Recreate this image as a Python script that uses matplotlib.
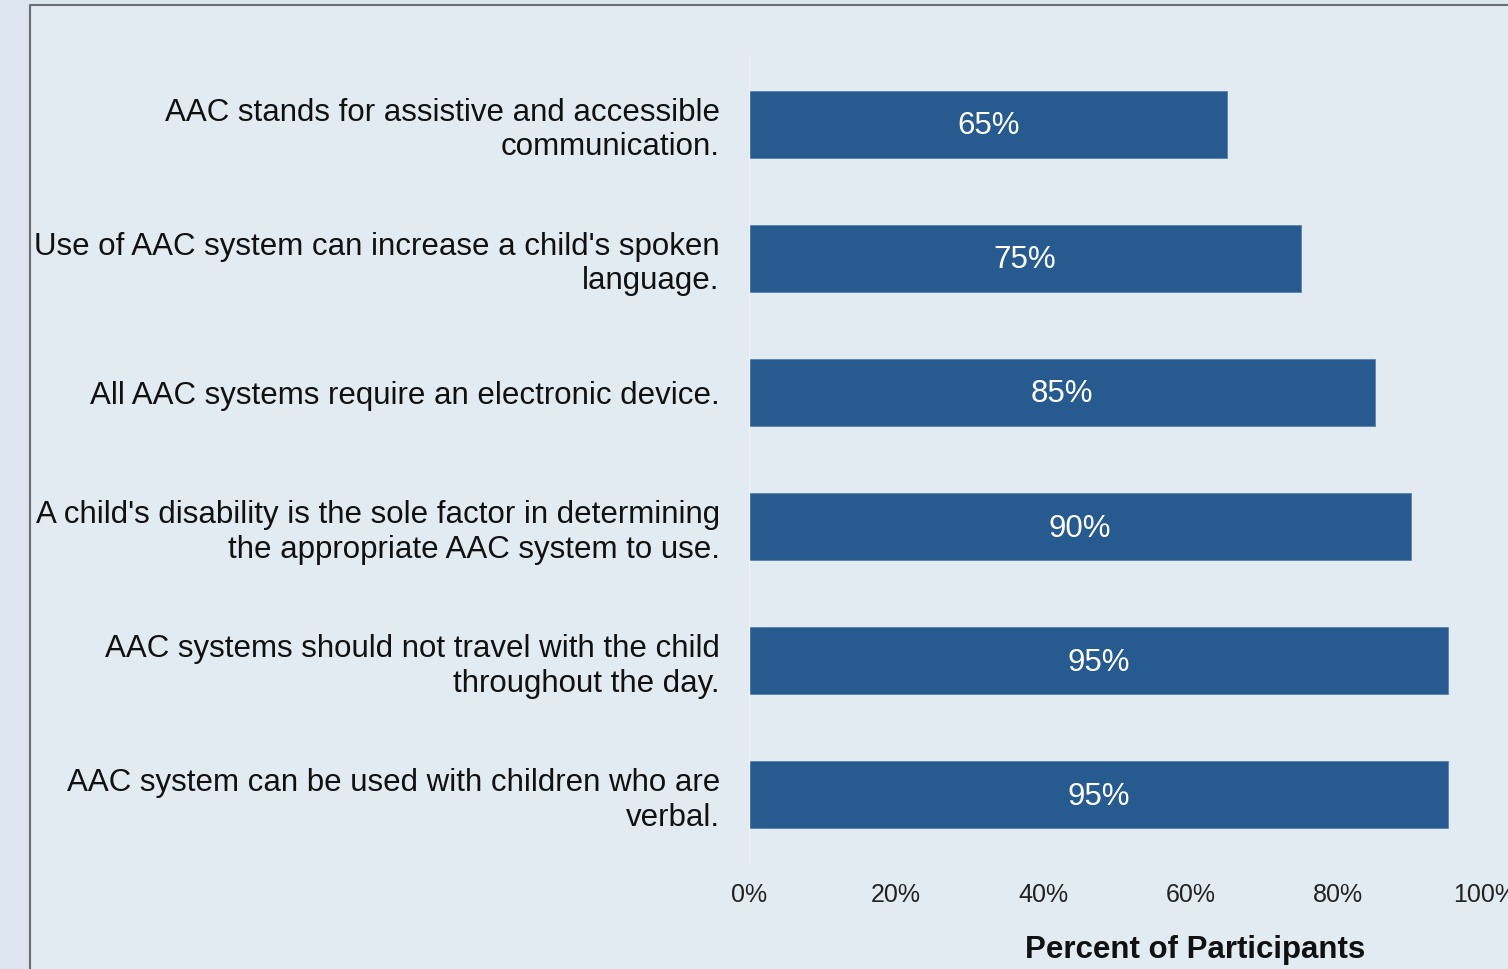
import matplotlib
matplotlib.use("Agg")
import matplotlib.pyplot as plt
from matplotlib.patches import Rectangle
from matplotlib.lines import Line2D
from matplotlib import font_manager

categories = [
    "AAC stands for assistive and accessible\ncommunication.",
    "Use of AAC system can increase a child's spoken\nlanguage.",
    "All AAC systems require an electronic device.",
    "A child's disability is the sole factor in determining\nthe appropriate AAC system to use.",
    "AAC systems should not travel with the child\nthroughout the day.",
    "AAC system can be used with children who are\nverbal.",
]
values = [65, 75, 85, 90, 95, 95]
tick_values = [0, 20, 40, 60, 80, 100]
tick_labels = ["0%", "20%", "40%", "60%", "80%", "100%"]

names = {f.name for f in font_manager.fontManager.ttflist}
narrow = "Liberation Sans Narrow" if "Liberation Sans Narrow" in names else "Liberation Sans"
plt.rcParams["font.family"] = ["Liberation Sans", "DejaVu Sans"]

W, H = 1508, 969
fig = plt.figure(figsize=(W / 100, H / 100), dpi=100)
fig.patch.set_facecolor("#dce5f0")
fig.patches.append(Rectangle((30 / W, 0), 1 - 30 / W, 1 - 5 / H, transform=fig.transFigure,
                             facecolor="#e2eaf2", edgecolor="none", zorder=-2))
fig.lines.append(Line2D([30 / W, 30 / W, 1], [0, 1 - 5 / H, 1 - 5 / H], transform=fig.transFigure,
                        color="#6b6f75", lw=1.5, zorder=-1))

ax = fig.add_axes([749 / W, 1 - 862 / H, 736 / W, 805 / H])
ax.set_zorder(1)
ax.set_facecolor("none")
y = list(range(len(categories)))
bars = ax.barh(y, values, height=0.5, color="#275b8f", edgecolor="#5a82b0", linewidth=0.6)
ax.set_ylim(len(categories) - 0.5, -0.5)
ax.set_xlim(0, 100)
for b, v in zip(bars, values):
    ax.text(v / 2, b.get_y() + b.get_height() / 2 + 0.015, f"{v}%", color="white", fontsize=22.5,
            ha="center", va="center")
ax.set_yticks(y)
ax.set_yticklabels(categories, fontsize=22.5, color="#111111", linespacing=1.2)
ax.set_xticks(tick_values)
ax.set_xticklabels(tick_labels, fontsize=18, color="#222222", family=[narrow, "DejaVu Sans"])
ax.tick_params(axis="y", length=0, pad=21)
ax.tick_params(axis="x", length=0, pad=15)
for s in ["top", "right", "bottom"]:
    ax.spines[s].set_visible(False)
ax.spines["left"].set_color("#eef2f7")
ax.spines["left"].set_linewidth(1)

fig.text(1195 / W, 1 - 950 / H, "Percent of Participants", fontsize=22.5, fontweight="bold",
         ha="center", va="center", color="#111111", family=[narrow, "DejaVu Sans"])

fig.savefig("out.png", dpi=100, facecolor=fig.get_facecolor())
